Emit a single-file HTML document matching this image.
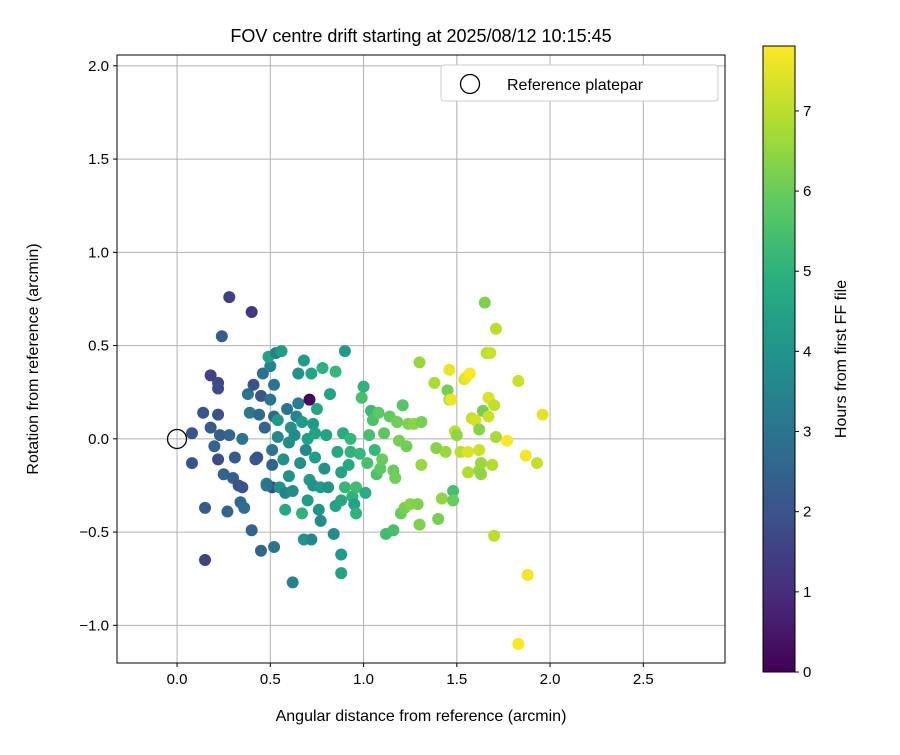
<!DOCTYPE html>
<html><head><meta charset="utf-8"><style>
body{margin:0;background:#fff;}
svg text{font-family:"Liberation Sans","DejaVu Sans",sans-serif;fill:#000;}
</style></head><body>
<svg id="chart" width="900" height="750" xmlns="http://www.w3.org/2000/svg">
<defs>
<linearGradient id="vir" x1="0" y1="1" x2="0" y2="0">
<stop offset="0" stop-color="#440154"/><stop offset="0.125" stop-color="#472d7b"/><stop offset="0.25" stop-color="#3b528b"/><stop offset="0.375" stop-color="#2c728e"/><stop offset="0.5" stop-color="#21918c"/><stop offset="0.625" stop-color="#28ae80"/><stop offset="0.75" stop-color="#5ec962"/><stop offset="0.875" stop-color="#addc30"/><stop offset="1" stop-color="#fde725"/>
</linearGradient>
<clipPath id="clip"><rect x="117" y="55" width="608" height="608"/></clipPath>
</defs>
<text x="421" y="42" font-size="18" text-anchor="middle">FOV centre drift starting at 2025/08/12 10:15:45</text>
<g id="grid"></g>
<g id="pts" clip-path="url(#clip)"></g>
<circle cx="177" cy="439" r="9.5" fill="none" stroke="#000" stroke-width="1.3"/>
<rect x="117" y="55" width="608" height="608" fill="none" stroke="#000" stroke-width="1"/>
<g id="ticks"></g>
<text x="421" y="721" font-size="16" text-anchor="middle">Angular distance from reference (arcmin)</text>
<text transform="translate(38,359) rotate(-90)" font-size="16" text-anchor="middle">Rotation from reference (arcmin)</text>
<g>
<rect x="441" y="65" width="277" height="36" rx="3" fill="#fff" stroke="#ccc" stroke-width="1"/>
<circle cx="470" cy="84" r="9.5" fill="none" stroke="#000" stroke-width="1.3"/>
<text x="507" y="90" font-size="16">Reference platepar</text>
</g>
<rect x="763" y="46" width="32" height="626" fill="url(#vir)" stroke="#000" stroke-width="1"/>
<g id="cbt"></g>
<text transform="translate(846,359) rotate(-90)" font-size="16" text-anchor="middle">Hours from first FF file</text>
</svg>
<script>
const xTicks=[0,0.5,1.0,1.5,2.0,2.5];
const yTicks=[-1.0,-0.5,0,0.5,1.0,1.5,2.0];
const cTicks=[0,1,2,3,4,5,6,7];
const xs=[0.08,0.08,0.14,0.15,0.15,0.18,0.18,0.20,0.22,0.22,0.22,0.22,0.23,0.24,0.25,0.27,0.28,0.28,0.30,0.31,0.33,0.34,0.35,0.35,0.36,0.38,0.39,0.40,0.40,0.41,0.42,0.43,0.44,0.45,0.45,0.46,0.47,0.48,0.50,0.50,0.51,0.51,0.52,0.52,0.51,0.48,0.49,0.53,0.52,0.54,0.54,0.55,0.56,0.57,0.58,0.58,0.59,0.60,0.60,0.61,0.62,0.62,0.63,0.64,0.65,0.65,0.66,0.67,0.67,0.68,0.68,0.69,0.70,0.70,0.71,0.71,0.72,0.72,0.73,0.73,0.74,0.74,0.75,0.76,0.77,0.77,0.78,0.79,0.80,0.81,0.82,0.84,0.85,0.85,0.86,0.88,0.88,0.88,0.88,0.89,0.90,0.90,0.92,0.93,0.93,0.94,0.95,0.96,0.96,0.98,0.99,1.00,1.01,1.02,1.03,1.04,1.05,1.06,1.07,1.08,1.09,1.10,1.11,1.12,1.14,1.16,1.16,1.17,1.18,1.19,1.20,1.21,1.22,1.23,1.24,1.25,1.27,1.29,1.30,1.30,1.31,1.31,1.38,1.39,1.40,1.42,1.44,1.45,1.46,1.46,1.47,1.48,1.48,1.49,1.50,1.52,1.54,1.55,1.56,1.56,1.57,1.58,1.60,1.62,1.62,1.62,1.63,1.63,1.64,1.65,1.66,1.67,1.67,1.68,1.69,1.70,1.70,1.71,1.71,1.77,1.83,1.83,1.87,1.88,1.93,1.96];
const ys=[0.03,-0.13,0.14,-0.65,-0.37,0.34,0.06,-0.04,0.30,0.27,0.13,-0.11,0.02,0.55,-0.19,-0.39,0.02,0.76,-0.21,-0.10,-0.25,-0.34,-0.26,0.00,-0.37,0.24,0.14,0.68,-0.49,0.29,-0.11,-0.10,0.13,0.23,-0.60,0.35,0.06,-0.24,0.39,0.21,-0.26,-0.14,-0.58,0.29,-0.06,-0.25,0.44,0.46,0.12,0.01,0.10,-0.26,0.47,-0.11,-0.29,-0.38,0.16,-0.02,-0.20,0.06,-0.77,-0.28,0.02,0.12,0.19,0.35,-0.13,-0.40,0.09,-0.54,0.42,-0.06,-0.33,0.00,0.21,-0.22,0.35,-0.54,0.08,-0.25,-0.10,0.03,0.16,-0.38,-0.26,-0.44,0.38,-0.16,0.02,-0.26,0.24,-0.51,0.36,-0.36,-0.07,-0.18,-0.62,-0.72,-0.33,0.03,-0.26,0.47,-0.14,0.00,-0.07,-0.31,-0.35,-0.40,-0.26,-0.08,0.22,0.28,-0.29,-0.13,0.02,0.15,0.10,-0.06,-0.19,0.14,-0.16,-0.11,0.03,-0.51,0.12,-0.17,-0.49,-0.21,0.09,-0.01,-0.40,0.18,-0.37,-0.04,0.08,-0.35,0.08,-0.35,-0.46,0.41,0.09,-0.14,0.30,-0.05,-0.43,-0.32,-0.07,0.26,0.21,0.37,0.21,-0.28,-0.33,0.04,0.02,-0.07,0.32,0.33,-0.07,-0.18,0.35,0.11,0.10,0.05,-0.17,-0.06,-0.13,-0.19,0.15,0.73,0.46,0.12,0.22,0.46,-0.14,0.18,-0.52,0.59,0.01,-0.01,0.31,-1.10,-0.09,-0.73,-0.13,0.13];
const hours=[2.0,2.0,2.0,1.5,2.2,1.5,2.2,2.5,1.7,1.8,2.0,1.8,2.3,2.3,2.5,2.5,2.5,1.5,2.3,2.2,2.0,2.6,2.0,3.0,2.8,3.0,3.2,1.3,2.5,2.0,2.2,2.0,2.6,2.0,2.5,3.0,2.5,3.5,3.5,3.0,1.8,2.5,3.0,3.0,3.0,3.0,4.5,3.5,2.7,3.7,4.2,4.0,4.3,4.0,3.5,4.7,3.0,3.8,4.0,4.0,3.5,3.8,3.8,3.5,3.3,4.0,3.9,5.0,4.2,4.0,4.3,3.7,4.3,4.4,0.2,4.2,4.5,3.7,4.2,4.0,4.3,4.5,4.6,4.0,4.2,3.8,5.0,4.0,4.5,4.0,4.5,3.8,5.2,4.5,4.7,4.5,4.2,4.5,4.7,4.8,5.2,4.2,4.7,5.2,5.0,5.0,4.5,5.0,5.4,5.2,5.5,5.0,4.8,5.5,5.5,5.3,5.6,5.2,5.6,5.8,5.8,6.0,5.8,5.4,5.9,6.0,5.5,6.1,6.1,6.2,6.0,5.7,6.2,6.1,6.3,6.4,6.4,6.3,6.3,6.6,6.2,6.6,6.8,6.4,6.2,6.5,6.6,6.2,6.8,7.6,7.6,5.5,6.0,7.0,6.5,7.0,7.4,7.6,7.4,6.9,7.8,7.1,7.3,6.4,6.6,7.2,6.6,6.5,6.2,6.3,7.0,7.2,7.4,7.2,6.9,7.1,7.0,7.0,6.8,7.8,7.2,7.8,7.7,7.7,7.1,7.5];
const NS='http://www.w3.org/2000/svg';
const X0=117,X1=725,Y0=55,Y1=663,xmin=-0.322,xmax=2.938,ymin=-1.202,ymax=2.058;
const sx=v=>X0+(v-xmin)/(xmax-xmin)*(X1-X0);
const sy=v=>Y1-(v-ymin)/(ymax-ymin)*(Y1-Y0);
const cmax=7.81, cy=v=>672-v/cmax*626;
const vir=[[68,1,84],[72,40,120],[62,74,137],[49,104,142],[38,130,142],[31,158,137],[53,183,121],[109,205,89],[180,222,44],[253,231,37]];
function color(h){let t=Math.max(0,Math.min(1,h/cmax))*(vir.length-1);let i=Math.min(Math.floor(t),vir.length-2),f=t-i;const c=vir[i].map((a,k)=>Math.round(a+(vir[i+1][k]-a)*f));return `rgb(${c})`;}
function mk(tag,attrs,parent){const e=document.createElementNS(NS,tag);for(const k in attrs)e.setAttribute(k,attrs[k]);parent.appendChild(e);return e;}
const grid=document.getElementById('grid'),ticks=document.getElementById('ticks'),pts=document.getElementById('pts'),cbt=document.getElementById('cbt');
xTicks.forEach(v=>{const x=sx(v);
const g=mk('line',{x1:x,x2:x,y1:Y0,y2:Y1,stroke:'#b0b0b0','stroke-width':1},grid);


const t=mk('line',{x1:x,x2:x,y1:Y1,y2:Y1+4,stroke:'#000'},ticks);


const l=mk('text',{x:x,y:Y1+21,'font-size':15,'text-anchor':'middle'},ticks);l.textContent=v.toFixed(1);

});
yTicks.forEach(v=>{const y=sy(v);
const g=mk('line',{x1:X0,x2:X1,y1:y,y2:y,stroke:'#b0b0b0','stroke-width':1},grid);


const t=mk('line',{x1:X0-4,x2:X0,y1:y,y2:y,stroke:'#000'},ticks);


const l=mk('text',{x:X0-8,y:y+5,'font-size':15,'text-anchor':'end'},ticks);l.textContent=(v<0?'\u2212':'')+Math.abs(v).toFixed(1);

});
xs.forEach((v,i)=>{const c=mk('circle',{cx:sx(v),cy:sy(ys[i]),r:6,fill:color(hours[i])},pts);

});
cTicks.forEach(v=>{const y=cy(v);
const t=mk('line',{x1:795,x2:799,y1:y,y2:y,stroke:'#000'},cbt);


const l=mk('text',{x:803,y:y+5,'font-size':15},cbt);l.textContent=v;

});
</script>
</body></html>
